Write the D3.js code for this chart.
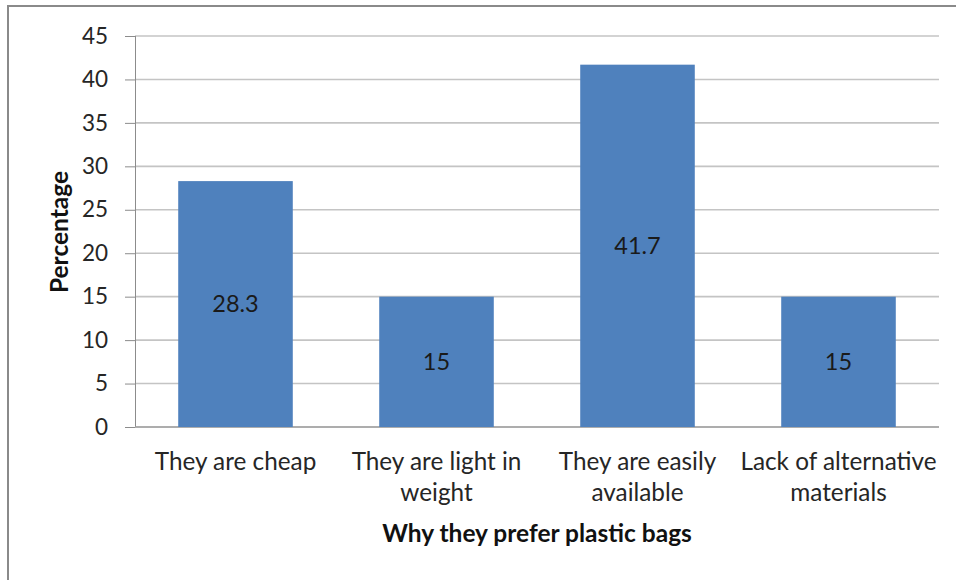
<!DOCTYPE html>
<html>
<head>
<meta charset="utf-8">
<script src="https://cdn.jsdelivr.net/npm/d3@7"></script>
<style>
  html, body { margin: 0; padding: 0; background: #fff; }
  svg { display: block; font-family: Lato, "Open Sans", sans-serif; }
</style>
</head>
<body>
<svg id="chart" width="956" height="580"></svg>
<script>
// Reasons respondents gave for preferring plastic bags (percent)
const categories = [
  ["They are cheap"],
  ["They are light in", "weight"],
  ["They are easily", "available"],
  ["Lack of alternative", "materials"]
];
const values = [28.3, 15, 41.7, 15];
const yTicks = [0, 5, 10, 15, 20, 25, 30, 35, 40, 45];
const xTitle = "Why they prefer plastic bags";
const yTitle = "Percentage";

const svg = d3.select("#chart");
const W = 956, H = 580;
const plot = { left: 135, right: 939, top: 36, bottom: 427 };

// outer frame (left and top edges)
svg.append("path")
  .attr("d", `M8,${H} L8,6 L${W},6`)
  .attr("fill", "none")
  .attr("stroke", "#8a8a8a")
  .attr("stroke-width", 2);

const x = d3.scaleBand()
  .domain(d3.range(categories.length))
  .range([plot.left, plot.right])
  .paddingInner(0.43)
  .paddingOuter(0.215);

const y = d3.scaleLinear()
  .domain([0, 45])
  .range([plot.bottom, plot.top]);

// horizontal gridlines
svg.append("g")
  .selectAll("line")
  .data(yTicks)
  .join("line")
  .attr("x1", plot.left)
  .attr("x2", plot.right)
  .attr("y1", d => y(d))
  .attr("y2", d => y(d))
  .attr("stroke", "#c4c4c4")
  .attr("stroke-width", 1.6);

// y axis
const yAxis = svg.append("g")
  .attr("transform", `translate(${plot.left},0)`)
  .call(d3.axisLeft(y).tickValues(yTicks).tickSize(10).tickPadding(17).tickFormat(d3.format("d")));
yAxis.select(".domain").attr("stroke", "#8c8c8c").attr("d", `M0.5,${plot.top}V${plot.bottom}`);
yAxis.selectAll(".tick line").attr("stroke", "#8c8c8c");
yAxis.selectAll(".tick text")
  .attr("font-size", 22.5)
  .attr("fill", "#262626")
  .attr("font-family", "Lato, sans-serif");

// baseline
svg.append("line")
  .attr("x1", plot.left).attr("x2", plot.right)
  .attr("y1", y(0)).attr("y2", y(0))
  .attr("stroke", "#a0a0a0").attr("stroke-width", 1.6);

// bars
svg.append("g")
  .selectAll("rect")
  .data(values)
  .join("rect")
  .attr("x", (d, i) => x(i))
  .attr("width", x.bandwidth())
  .attr("y", d => y(d))
  .attr("height", d => y(0) - y(d))
  .attr("fill", "#4f81bd");

// value labels in the middle of each bar
svg.append("g")
  .selectAll("text")
  .data(values)
  .join("text")
  .attr("x", (d, i) => x(i) + x.bandwidth() / 2)
  .attr("y", d => (y(d) + y(0)) / 2)
  .attr("dy", "0.35em")
  .attr("text-anchor", "middle")
  .attr("font-size", 23.5)
  .attr("fill", "#1a1a1a")
  .text(d => d);

// category labels
const catG = svg.append("g");
categories.forEach((lines, i) => {
  const t = catG.append("text")
    .attr("x", x(i) + x.bandwidth() / 2)
    .attr("y", 470)
    .attr("text-anchor", "middle")
    .attr("font-size", 24.3)
    .attr("fill", "#262626");
  lines.forEach((ln, j) => {
    t.append("tspan")
      .attr("x", x(i) + x.bandwidth() / 2)
      .attr("dy", j === 0 ? 0 : 31)
      .text(ln);
  });
});

// axis titles
svg.append("text")
  .attr("x", 537)
  .attr("y", 542)
  .attr("text-anchor", "middle")
  .attr("font-size", 24.5)
  .attr("font-weight", "bold")
  .attr("fill", "#111")
  .text(xTitle);

svg.append("text")
  .attr("transform", `translate(68,232) rotate(-90)`)
  .attr("text-anchor", "middle")
  .attr("font-size", 24.5)
  .attr("font-weight", "bold")
  .attr("fill", "#111")
  .text(yTitle);
</script>
</body>
</html>
